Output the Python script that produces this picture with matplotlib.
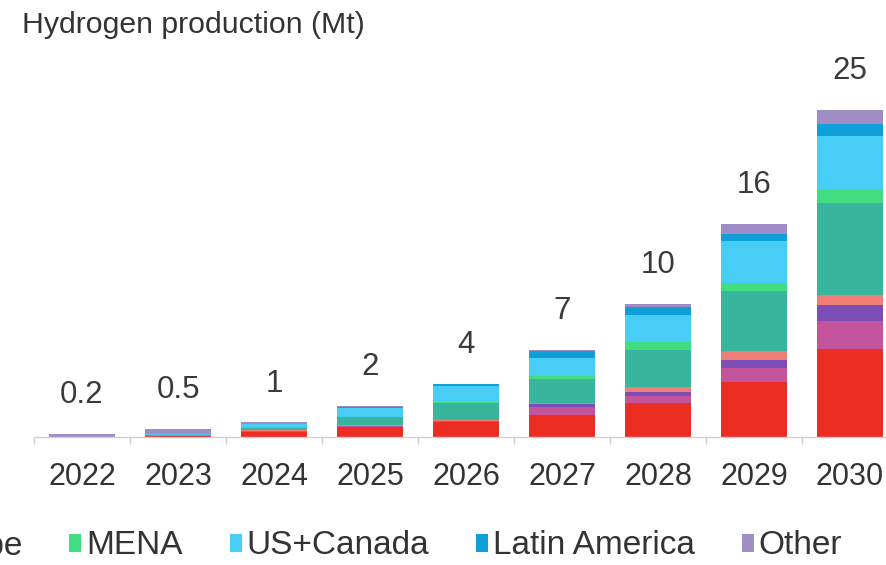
import matplotlib
matplotlib.use("Agg")
import matplotlib.pyplot as plt
from matplotlib.patches import Patch
import numpy as np

plt.rcParams['font.family'] = ['Liberation Sans', 'DejaVu Sans']

years = ["2022", "2023", "2024", "2025", "2026", "2027", "2028", "2029", "2030"]
totals_labels = ["0.2", "0.5", "1", "2", "4", "7", "10", "16", "25"]

regions = ["China", "India", "Japan+Korea", "Australia", "Europe",
           "MENA", "US+Canada", "Latin America", "Other"]
china      = [0.00, 0.05, 0.40, 0.75, 1.10, 1.70, 2.60, 4.20, 6.70]
india      = [0.00, 0.02, 0.05, 0.05, 0.10, 0.60, 0.50, 1.05, 2.10]
japan_kor  = [0.00, 0.02, 0.02, 0.05, 0.05, 0.20, 0.30, 0.60, 1.20]
australia  = [0.00, 0.02, 0.03, 0.05, 0.05, 0.10, 0.40, 0.70, 0.75]
europe     = [0.00, 0.05, 0.20, 0.60, 1.30, 1.80, 2.80, 4.50, 7.00]
mena       = [0.00, 0.01, 0.02, 0.05, 0.05, 0.25, 0.60, 0.60, 1.05]
us_canada  = [0.00, 0.05, 0.25, 0.65, 1.20, 1.35, 2.05, 3.20, 4.00]
latam      = [0.00, 0.02, 0.05, 0.10, 0.15, 0.50, 0.60, 0.55, 0.90]
other      = [0.25, 0.40, 0.08, 0.05, 0.05, 0.10, 0.25, 0.75, 1.10]

series = [china, india, japan_kor, australia, europe, mena, us_canada, latam, other]
colors = ["#EC2D24", "#C4549C", "#7B4DB5", "#EE7E76", "#3AB59D",
          "#40DE80", "#48CEF6", "#0E9FD8", "#A08DC6"]

W, H = 886, 565
fig = plt.figure(figsize=(W / 100, H / 100), dpi=100)

# axes: x from px 34 to 898 (category edges), baseline at y=437
ymax = 28
px_per = 13.2
ax = fig.add_axes([34 / W, 1 - 437 / H, 864 / W, ymax * px_per / H])

x = np.arange(len(years))
bottom = np.zeros(len(years))
for vals, col, name in zip(series, colors, regions):
    ax.bar(x, vals, bottom=bottom, width=0.68, color=col, label=name, linewidth=0)
    bottom += np.array(vals)

for xi, top, lab in zip(x, bottom, totals_labels):
    ax.annotate(lab, (xi, top), xytext=(0, 28), textcoords="offset points",
                ha="center", va="center", fontsize=22.5, color="#3a3a3a")

ax.set_xlim(-0.5, len(years) - 0.5)
ax.set_ylim(0, ymax)
ax.set_xticks(x)
ax.set_xticklabels(years, fontsize=22, color="#333333")
ax.set_xticks(np.arange(-0.5, len(years), 1), minor=True)
ax.tick_params(axis="x", which="major", length=0, pad=18)
ax.tick_params(axis="x", which="minor", length=5, color="#cfcfcf", width=1)
ax.set_yticks([])
for s in ["top", "right", "left"]:
    ax.spines[s].set_visible(False)
ax.spines["bottom"].set_color("#d0d0d0")
ax.spines["bottom"].set_linewidth(1)

fig.text(22 / W, 1 - 33 / H, "Hydrogen production (Mt)", fontsize=21.8,
         color="#333333", ha="left", va="baseline")

handles = [Patch(facecolor=c, edgecolor="none") for c in colors]
fig.legend(handles, regions, loc="center right", bbox_to_anchor=(842 / W, 1 - 546 / H),
           ncol=len(regions), frameon=False, fontsize=24,
           handlelength=0.36, handleheight=0.45, handletextpad=0.15,
           columnspacing=1.4, labelcolor="#333333", borderpad=0, borderaxespad=0)

fig.savefig("out.png", dpi=100)
